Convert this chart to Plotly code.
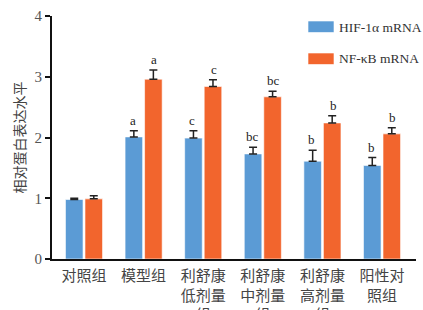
import plotly.graph_objects as go

categories = ["对照组", "模型组", "利舒康<br>低剂量<br>组", "利舒康<br>中剂量<br>组", "利舒康<br>高剂量<br>组", "阳性对<br>照组"]
series_names = ["HIF-1α mRNA", "NF-κB mRNA"]
hif_values = [0.98, 2.01, 1.99, 1.73, 1.61, 1.54]
hif_errors = [0.02, 0.10, 0.12, 0.11, 0.18, 0.13]
hif_letters = ["", "a", "c", "bc", "b", "b"]
nfkb_values = [0.99, 2.96, 2.84, 2.67, 2.24, 2.06]
nfkb_errors = [0.05, 0.15, 0.11, 0.09, 0.12, 0.10]
nfkb_letters = ["", "a", "c", "bc", "b", "b"]
y_ticks = [0, 1, 2, 3, 4]
y_title = "相对蛋白表达水平"

colors = ["#5B9BD5", "#F2652D"]
SERIF = "Liberation Serif, Times New Roman, Noto Sans CJK SC"
CJK = "Noto Sans CJK SC, Liberation Serif"

W, H = 423, 310
L, R, T, B = 52, 7, 16, 51
plot_w = W - L - R
plot_h = H - T - B

xs = list(range(len(categories)))

fig = go.Figure()
for name, vals, errs, col in [
    (series_names[0], hif_values, hif_errors, colors[0]),
    (series_names[1], nfkb_values, nfkb_errors, colors[1]),
]:
    fig.add_trace(go.Bar(
        x=xs, y=vals, name=name,
        marker=dict(color=col, line=dict(color="rgba(255,255,255,0.6)", width=1)),
        error_y=dict(type="data", symmetric=False, array=errs, arrayminus=[0] * len(errs),
                     color="#222222", thickness=1.5, width=4),
        showlegend=False,
    ))

# significance letters
offset = 0.18
annotations = []
for vals, errs, letters, sgn in [
    (hif_values, hif_errors, hif_letters, -1),
    (nfkb_values, nfkb_errors, nfkb_letters, 1),
]:
    for i, (v, e, t) in enumerate(zip(vals, errs, letters)):
        if t:
            annotations.append(dict(
                x=i + sgn * offset, y=v + e, xref="x", yref="y", text=t,
                showarrow=False, yanchor="bottom", yshift=1,
                font=dict(family=SERIF, size=13, color="#222222"),
            ))

# manual legend (wide swatches)
def px2paper(px, py):
    return (px - L) / plot_w, (H - B - py) / plot_h

shapes = []
for k, (name, col) in enumerate(zip(series_names, colors)):
    top = 21 + 32 * k
    x0, y1 = px2paper(308, top)
    x1, y0 = px2paper(334, top + 11.5)
    shapes.append(dict(type="rect", xref="paper", yref="paper", x0=x0, x1=x1, y0=y0, y1=y1,
                       fillcolor=col, line=dict(color="rgba(255,255,255,0.6)", width=1)))
    tx, ty = px2paper(338, top + 6)
    annotations.append(dict(x=tx, y=ty, xref="paper", yref="paper", text=name,
                            showarrow=False, xanchor="left", yanchor="middle", borderpad=0,
                            font=dict(family=SERIF, size=13.5, color="#333333")))

fig.update_layout(
    width=W, height=H,
    margin=dict(l=L, r=R, t=T, b=B, pad=0, autoexpand=False),
    paper_bgcolor="white", plot_bgcolor="white",
    barmode="group", bargap=0.345, bargroupgap=0.1,
    annotations=annotations, shapes=shapes,
    xaxis=dict(
        range=[-0.537, 5.57], tickmode="array", tickvals=xs, ticktext=categories,
        showline=True, linecolor="#111111", linewidth=2, ticks="", showgrid=False,
        zeroline=False, tickfont=dict(family=CJK, size=15, color="#444444"),
        ticklabelstandoff=2, automargin=False,
    ),
    yaxis=dict(
        range=[0, 4], tickvals=y_ticks, showline=True, linecolor="#111111", linewidth=2,
        ticks="outside", ticklen=5, tickwidth=1.5, tickcolor="#111111", showgrid=False,
        zeroline=False, tickfont=dict(family=SERIF, size=15, color="#555555"),
        title=dict(text=y_title, font=dict(family=CJK, size=14, color="#444444"), standoff=6),
        automargin=False,
    ),
)

fig.write_html("out.html", config={"displayModeBar": False},
               post_script="document.body.style.margin='0';document.body.style.overflow='hidden';")
